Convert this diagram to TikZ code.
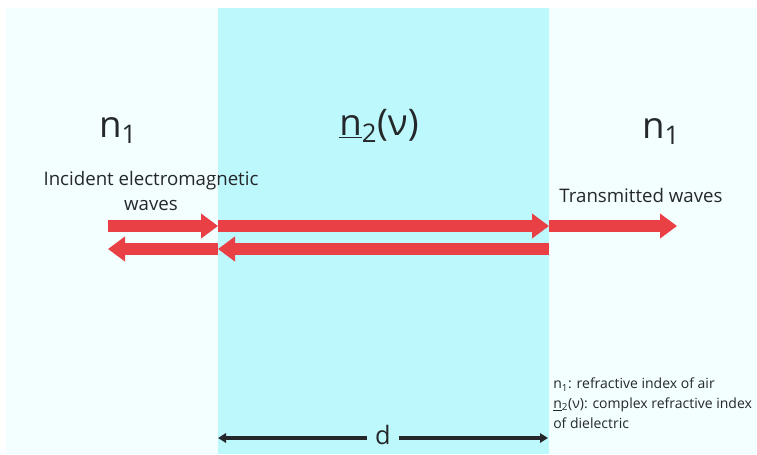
\documentclass[tikz,border=0pt]{standalone}
\usepackage{fontspec}
\setmainfont{Open Sans}
\usetikzlibrary{arrows.meta}
\definecolor{airblue}{RGB}{243,254,255}
\definecolor{dielblue}{RGB}{189,248,252}
\definecolor{wavered}{RGB}{232,64,69}
\definecolor{inkgray}{RGB}{37,40,42}

\begin{document}
\begin{tikzpicture}[x=0.75pt,y=-0.75pt,line join=miter,
  wave/.style={wavered,line width=9pt,-{Triangle[length=12.75pt,width=18pt]}},
  dimline/.style={inkgray,line width=2.4pt,-{Triangle[length=6pt,width=7pt]}},
  bigidx/.style={font=\fontsize{27.5}{30}\selectfont,text=inkgray,anchor=base,inner sep=0pt},
  wavetxt/.style={font=\fontsize{14}{18.75}\selectfont,text=inkgray,inner sep=0pt},
  notetxt/.style={font=\fontsize{10.5}{14.8}\selectfont,text=inkgray,inner sep=0pt,align=left}]
\useasboundingbox (0,0) rectangle (757,454);
% media
\fill[airblue] (6,8) rectangle (218,454);
\fill[dielblue] (218,8) rectangle (549,454);
\fill[airblue] (549,8) rectangle (757,454);
% refractive indices
\node[bigidx] (nair) at (118,137) {n\textsubscript{1}};
\node[bigidx] (ndiel) at (379,135) {\underline{n}\textsubscript{2}(ν)};
\node[bigidx] (nout) at (661,138) {n\textsubscript{1}};
% wave labels
\node[wavetxt,anchor=base,align=center] (inc) at (151,210) {Incident electromagnetic\\waves};
\node[wavetxt,anchor=base] (trans) at (641,202) {Transmitted waves};
% waves
\coordinate (incS) at (108,226);
\coordinate (frontT) at (218,226);
\coordinate (backT) at (549,226);
\coordinate (trE) at (677,226);
\coordinate (backB) at (549,249);
\coordinate (frontB) at (218,249);
\coordinate (refE) at (108,249);
\draw[wave] (incS) -- (frontT);
\draw[wave] (frontT) -- (backT);
\draw[wave] (backT) -- (trE);
\draw[wave] (backB) -- (frontB);
\draw[wave] (frontB) -- (refE);
% thickness
\node[font=\fontsize{19}{22}\selectfont,text=inkgray,inner xsep=6pt,inner ysep=0pt,anchor=base] (d) at (383,444) {d};
\coordinate (dL) at (218,438);
\coordinate (dR) at (548,438);
\draw[dimline] (d.west |- dL) -- (dL);
\draw[dimline] (d.east |- dR) -- (dR);
% legend
\node[notetxt,anchor=north west] (legend) at (553,378) {n\textsubscript{1}: refractive index of air\\\underline{n}\textsubscript{2}(ν): complex refractive index\\of dielectric};
\end{tikzpicture}
\end{document}
